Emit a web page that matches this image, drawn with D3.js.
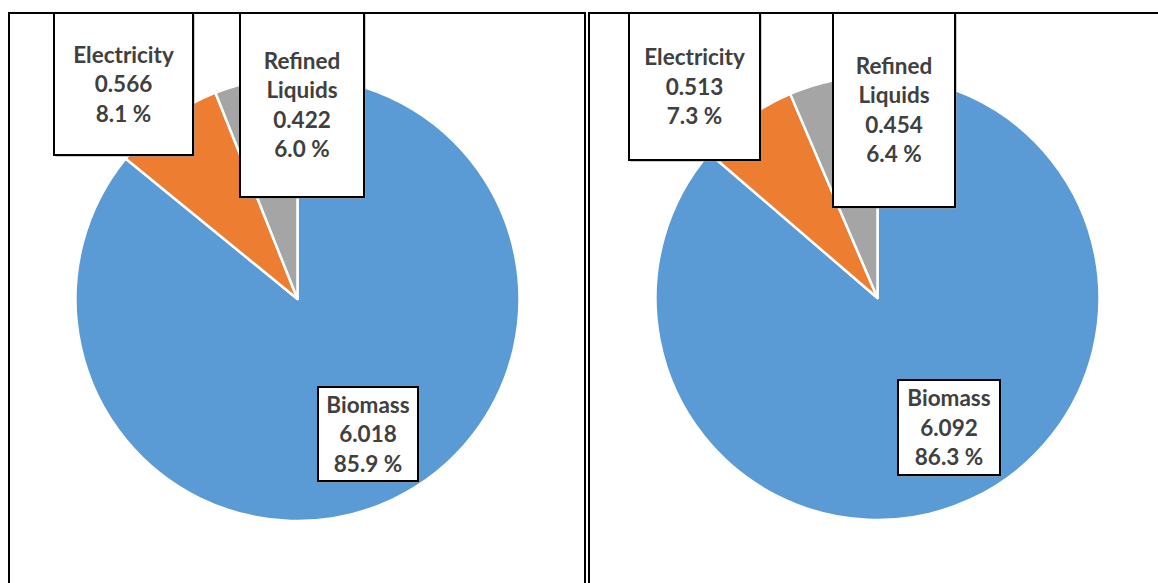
<!DOCTYPE html>
<html>
<head>
<meta charset="utf-8">
<script src="https://cdn.jsdelivr.net/npm/d3@7/dist/d3.min.js"></script>
<style>
  html, body { margin: 0; padding: 0; background: #fff; }
  svg { display: block; }
  .lbl { font-family: Lato, "Open Sans", sans-serif; font-weight: 700; fill: #404040; }
</style>
</head>
<body>
<svg id="chart" width="1158" height="583"></svg>
<script>
// Energy sources, same order in both pies (clockwise from 12 o'clock)
const categories = ["Biomass", "Electricity", "Refined Liquids"];
const labelLines = [["Biomass"], ["Electricity"], ["Refined", "Liquids"]];
const colors = ["#5B9BD5", "#ED7D31", "#A5A5A5"];

// Consumption values for each pie
const valuesLeft = [6.018, 0.566, 0.422];
const valuesRight = [6.092, 0.513, 0.454];

const svg = d3.select("#chart");
const W = 1158, H = 583;

// Panel geometry
const panels = [
  { values: valuesLeft, frame: { x: 9, y: 13, w: 576 }, cx: 297.5, cy: 299,
    boxes: [ { x: 318, y: 387, w: 100, h: 94 },
             { x: 54,  y: 13,  w: 139, h: 142 },
             { x: 240, y: 13,  w: 124, h: 184 } ] },
  { values: valuesRight, frame: { x: 589, y: 13, w: 600 }, cx: 877.5, cy: 298,
    boxes: [ { x: 898, y: 380, w: 102, h: 95 },
             { x: 629, y: 13,  w: 131, h: 147 },
             { x: 833, y: 13,  w: 122, h: 194 } ] }
];
const radius = 222;

const color = d3.scaleOrdinal().domain(categories).range(colors);
const pie = d3.pie().sort(null).value(d => d.value).startAngle(0).endAngle(2 * Math.PI);
const arc = d3.arc().innerRadius(0).outerRadius(radius);
const fmtVal = d3.format(".3f");
const fmtPct = d3.format(".1f");

panels.forEach(p => {
  const g = svg.append("g");

  // panel frame (open at the bottom / right, running off the canvas)
  g.append("rect")
    .attr("x", p.frame.x).attr("y", p.frame.y)
    .attr("width", p.frame.w).attr("height", H)
    .attr("fill", "none").attr("stroke", "#000").attr("stroke-width", 2);

  const total = d3.sum(p.values);
  const data = categories.map((c, i) => ({ name: c, value: p.values[i], idx: i }));

  const pg = g.append("g").attr("transform", `translate(${p.cx},${p.cy})`);
  pg.selectAll("path")
    .data(pie(data))
    .join("path")
    .attr("d", arc)
    .attr("fill", d => color(d.data.name))
    .attr("stroke", "#fff")
    .attr("stroke-width", 2.5)
    .attr("stroke-linejoin", "round");

  // data label callouts
  data.forEach(d => {
    const b = p.boxes[d.idx];
    g.append("rect")
      .attr("x", b.x + 1.5).attr("y", b.y + 1.5)
      .attr("width", b.w).attr("height", b.h)
      .attr("fill", "#9a9a9a");
    g.append("rect")
      .attr("x", b.x).attr("y", b.y)
      .attr("width", b.w).attr("height", b.h)
      .attr("fill", "#fff").attr("stroke", "#000").attr("stroke-width", 2);

    const lines = labelLines[d.idx].concat([fmtVal(d.value), fmtPct(d.value / total * 100) + " %"]);
    const lh = 29.5;
    const cx = b.x + b.w / 2;
    const cy = b.y + b.h / 2 + (d.idx === 0 ? 0 : 0);
    const y0 = cy - (lines.length - 1) * lh / 2;
    const t = g.append("text").attr("class", "lbl")
      .attr("text-anchor", "middle")
      .attr("font-size", 22.5);
    lines.forEach((ln, k) => {
      t.append("tspan")
        .attr("x", cx)
        .attr("y", y0 + k * lh)
        .attr("dy", "0.36em")
        .text(ln);
    });
  });
});
</script>
</body>
</html>
